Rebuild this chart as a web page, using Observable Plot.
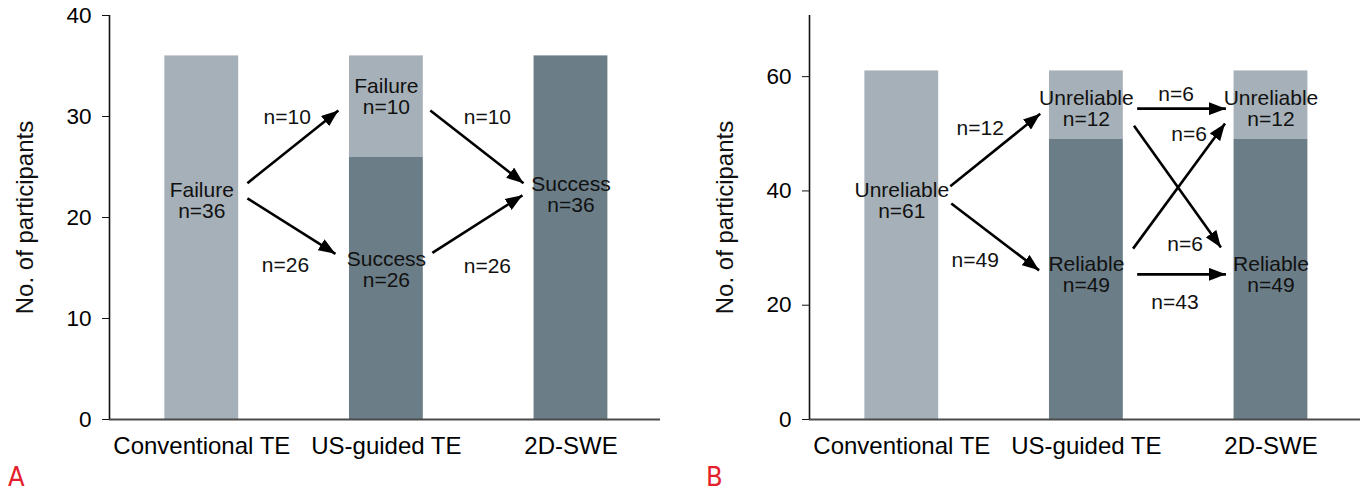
<!DOCTYPE html>
<html>
<head>
<meta charset="utf-8">
<script src="https://cdn.jsdelivr.net/npm/d3@7"></script>
<script src="https://cdn.jsdelivr.net/npm/@observablehq/plot@0.6"></script>
<style>
  html, body { margin: 0; padding: 0; background: #fff; }
  #wrap { position: relative; width: 1364px; height: 493px; overflow: hidden;
          font-family: "Liberation Sans", Arial, Helvetica, sans-serif; }
  .panel { position: absolute; top: 0; }
  .letter { position: absolute; top: 461px; color: #e3202b; font-size: 27px;
            font-family: "Liberation Sans Narrow", "DejaVu Sans Condensed", "Roboto Condensed", "Liberation Sans", sans-serif; }
</style>
</head>
<body>
<div id="wrap">
  <div id="panelA" class="panel" style="left:0px"></div>
  <div id="panelB" class="panel" style="left:700px"></div>
  <div class="letter" style="left:8px">A</div>
  <div class="letter" style="left:706px">B</div>
</div>
<script>
// ---------- shared ----------
const stages = ["Conventional TE", "US-guided TE", "2D-SWE"];
const yLabel = "No. of participants";
const lightGray = "#a6b0b8";
const darkGray = "#6b7d87";

// ---------- Panel A data ----------
const aBarStage  = [0, 1, 1, 2];
const aBarStatus = ["Failure", "Success", "Failure", "Success"];
const aBarCount  = [36, 26, 10, 36];
const aYTicks = [0, 10, 20, 30, 40];
const aYMax = 40;

const aLabelStage = [0, 1, 1, 2];
const aLabelY     = [21.7, 32.0, 14.85, 22.3];
const aLabelText  = ["Failure\nn=36", "Failure\nn=10", "Success\nn=26", "Success\nn=36"];

const aArrowX1 = [0.247, 0.247, 1.238, 1.249];
const aArrowY1 = [23.4, 21.9, 30.6, 16.5];
const aArrowX2 = [0.740, 0.724, 1.743, 1.737];
const aArrowY2 = [30.6, 16.4, 23.4, 22.2];

const aFlowX    = [0.463, 0.453, 1.547, 1.547];
const aFlowY    = [29.9, 15.3, 29.9, 15.2];
const aFlowText = ["n=10", "n=26", "n=10", "n=26"];

// ---------- Panel B data ----------
const bBarStage  = [0, 1, 1, 2, 2];
const bBarStatus = ["Unreliable", "Reliable", "Unreliable", "Reliable", "Unreliable"];
const bBarCount  = [61, 49, 12, 49, 12];
const bYTicks = [0, 20, 40, 60];
const bYMax = 70.7;

const bLabelStage = [0, 1, 1, 2, 2];
const bLabelY     = [38.3, 54.4, 25.4, 54.4, 25.4];
const bLabelText  = ["Unreliable\nn=61", "Unreliable\nn=12", "Reliable\nn=49", "Unreliable\nn=12", "Reliable\nn=49"];

const bArrowX1 = [0.263, 0.268, 1.275, 1.258, 1.253, 1.275];
const bArrowY1 = [40.8, 37.8, 54.4, 51.4, 29.9, 25.4];
const bArrowX2 = [0.750, 0.744, 1.756, 1.729, 1.751, 1.756];
const bArrowY2 = [53.5, 26.1, 54.4, 30.1, 51.8, 25.4];

const bFlowX    = [0.425, 0.398, 1.486, 1.556, 1.535, 1.480];
const bFlowY    = [50.9, 27.8, 57.0, 50.0, 30.6, 20.6];
const bFlowText = ["n=12", "n=49", "n=6", "n=6", "n=6", "n=43"];

// ---------- helpers ----------
const xDomain = [-0.5, 2.485];
const barHalf = 0.2;
const SVGNS = "http://www.w3.org/2000/svg";

function filledArrow(color) {
  const m = document.createElementNS(SVGNS, "marker");
  m.setAttribute("viewBox", "-17 -6.5 17 13");
  m.setAttribute("markerWidth", 17);
  m.setAttribute("markerHeight", 13);
  m.setAttribute("markerUnits", "userSpaceOnUse");
  m.setAttribute("orient", "auto");
  m.setAttribute("refX", 0);
  m.setAttribute("refY", 0);
  const p = document.createElementNS(SVGNS, "path");
  p.setAttribute("d", "M-17,-6.5L0,0L-17,6.5Z");
  p.setAttribute("fill", color);
  p.setAttribute("stroke", "none");
  m.appendChild(p);
  return m;
}

function zip(cols) {
  const keys = Object.keys(cols);
  return cols[keys[0]].map((_, i) => Object.fromEntries(keys.map(k => [k, cols[k][i]])));
}

function panel({barStage, barStatus, barCount, statusDomain, yTicks, yMax,
                labelStage, labelY, labelText,
                arrowX1, arrowY1, arrowX2, arrowY2,
                flowX, flowY, flowText, width, marginRight}) {
  const bars = zip({stage: barStage, status: barStatus, count: barCount});
  const labels = zip({stage: labelStage, y: labelY, text: labelText});
  const arrows = zip({x1: arrowX1, y1: arrowY1, x2: arrowX2, y2: arrowY2});
  const flows = zip({x: flowX, y: flowY, text: flowText});
  return Plot.plot({
    width, height: 470,
    marginLeft: 109, marginRight, marginTop: 15, marginBottom: 51,
    style: {fontFamily: '"Liberation Sans", Arial, Helvetica, sans-serif', background: "white", color: "black"},
    x: {domain: xDomain, axis: null},
    y: {domain: [0, yMax], axis: null},
    color: {domain: statusDomain, range: [lightGray, darkGray]},
    marks: [
      Plot.rectY(bars, {
        x1: d => d.stage - barHalf, x2: d => d.stage + barHalf,
        y: "count", fill: "status"
      }),
      Plot.ruleY([0], {stroke: "#4a4a4a", strokeWidth: 2}),
      Plot.ruleX([xDomain[0]], {y1: 0, y2: yMax, stroke: "#111", strokeWidth: 1.6}),
      Plot.axisY({ticks: yTicks, tickSize: 7, tickPadding: 11, fontSize: 22.5, label: null, stroke: "#111"}),
      Plot.axisX({ticks: [0, 1, 2], tickFormat: i => stages[i], tickSize: 0, tickPadding: 17, fontSize: 24, label: null}),
      Plot.text([yLabel], {frameAnchor: "left", rotate: -90, dx: -84, fontSize: 24, textAnchor: "middle", lineAnchor: "middle", fill: "#111"}),
      Plot.link(arrows, {x1: "x1", y1: "y1", x2: "x2", y2: "y2", stroke: "black", strokeWidth: 2.6, markerEnd: filledArrow}),
      Plot.text(labels, {x: "stage", y: "y", text: "text", fontSize: 21, lineHeight: 1.0, lineAnchor: "middle", fill: "#111"}),
      Plot.text(flows, {x: "x", y: "y", text: "text", fontSize: 21, lineAnchor: "middle", fill: "#111"})
    ]
  });
}

document.getElementById("panelA").appendChild(panel({
  barStage: aBarStage, barStatus: aBarStatus, barCount: aBarCount,
  statusDomain: ["Failure", "Success"], yTicks: aYTicks, yMax: aYMax,
  labelStage: aLabelStage, labelY: aLabelY, labelText: aLabelText,
  arrowX1: aArrowX1, arrowY1: aArrowY1, arrowX2: aArrowX2, arrowY2: aArrowY2,
  flowX: aFlowX, flowY: aFlowY, flowText: aFlowText,
  width: 690, marginRight: 30
}));

document.getElementById("panelB").appendChild(panel({
  barStage: bBarStage, barStatus: bBarStatus, barCount: bBarCount,
  statusDomain: ["Unreliable", "Reliable"], yTicks: bYTicks, yMax: bYMax,
  labelStage: bLabelStage, labelY: bLabelY, labelText: bLabelText,
  arrowX1: bArrowX1, arrowY1: bArrowY1, arrowX2: bArrowX2, arrowY2: bArrowY2,
  flowX: bFlowX, flowY: bFlowY, flowText: bFlowText,
  width: 664, marginRight: 4
}));
</script>
</body>
</html>
